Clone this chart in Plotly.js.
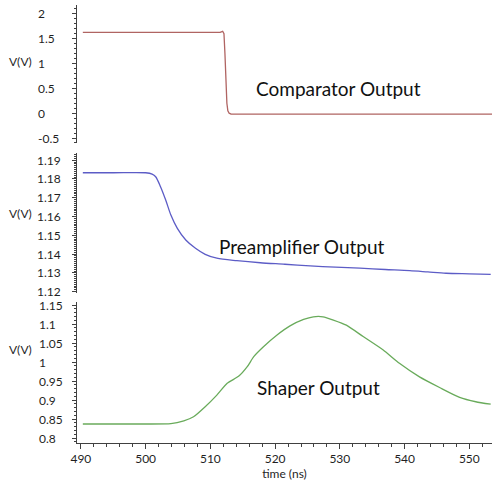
<!DOCTYPE html>
<html>
<head>
<meta charset="utf-8">
<script src="https://cdn.plot.ly/plotly-3.0.1.min.js"></script>
<style>html,body{margin:0;padding:0;background:#fff;}#chart{width:492px;height:493px;}</style>
</head>
<body>
<div id="chart"></div>
<script>
// ---- Data ----
const compTime = [490.3, 495, 500, 505, 510, 511.5, 511.9, 512.1, 512.25, 512.4, 512.55, 512.7, 512.9, 513.2, 513.6, 520, 530, 540, 550, 553.5];
const compV    = [1.63, 1.63, 1.63, 1.63, 1.63, 1.63, 1.65, 1.60, 1.20, 0.60, 0.20, 0.05, 0.0, -0.02, -0.02, -0.02, -0.02, -0.02, -0.02, -0.02];

const preTime = [490.3, 495, 500.0, 501.0, 501.55, 502.3, 503.1, 503.9, 504.9, 506.2, 507.7, 509.2, 511.0, 514.1, 517.7, 521.5, 525.4, 529.3, 533.1, 537.0, 540.8, 543.6, 546.4, 550.0, 553.3];
const preV    = [1.1833, 1.1833, 1.1833, 1.1826, 1.1812, 1.1759, 1.1688, 1.1608, 1.1537, 1.1475, 1.1431, 1.1399, 1.1378, 1.1365, 1.1354, 1.1346, 1.1337, 1.1331, 1.1325, 1.1318, 1.1312, 1.1305, 1.1298, 1.1295, 1.1292];

const shTime = [490.3, 495, 500, 503.9, 505.9, 507.4, 509.2, 511.0, 512.6, 514.4, 515.7, 516.7, 518.2, 520.3, 522.3, 524.4, 525.9, 527.4, 529.0, 531.0, 533.6, 536.7, 539.2, 542.3, 545.4, 548.5, 551.0, 553.3];
const shV    = [0.837, 0.837, 0.837, 0.838, 0.8455, 0.856, 0.8824, 0.913, 0.944, 0.963, 0.9877, 1.014, 1.040, 1.071, 1.095, 1.112, 1.119, 1.119, 1.1105, 1.097, 1.067, 1.0316, 0.9966, 0.961, 0.933, 0.907, 0.8955, 0.889];

const compTicks = [-0.5, 0, 0.5, 1, 1.5, 2];
const compTickText = ["-0.5", "0", "0.5", "1", "1.5", "2"];
const preTicks = [1.12, 1.13, 1.14, 1.15, 1.16, 1.17, 1.18, 1.19];
const preTickText = ["1.12", "1.13", "1.14", "1.15", "1.16", "1.17", "1.18", "1.19"];
const shTicks = [0.8, 0.85, 0.9, 0.95, 1, 1.05, 1.1, 1.15];
const shTickText = ["0.8", "0.85", "0.9", "0.95", "1", "1.05", "1.1", "1.15"];
const timeTicks = [490, 500, 510, 520, 530, 540, 550];

const panelLabels = ["Comparator Output", "Preamplifier Output", "Shaper Output"];
const yLabel = "V(V)";
const xLabel = "time (ns)";

// ---- Styling ----
const FONT = "Lato, 'Open Sans', sans-serif";
const axisColor = "#404040";
const textColor = "#1f1f1f";

const traces = [
  {x: compTime, y: compV, xaxis: "x", yaxis: "y", mode: "lines", line: {color: "#b06462", width: 1.3}, showlegend: false, hoverinfo: "skip"},
  {x: preTime, y: preV, xaxis: "x", yaxis: "y2", mode: "lines", line: {color: "#5c5cc6", width: 1.3, shape: "spline", smoothing: 0.8}, showlegend: false, hoverinfo: "skip"},
  {x: shTime, y: shV, xaxis: "x", yaxis: "y3", mode: "lines", line: {color: "#69ab5b", width: 1.3, shape: "spline", smoothing: 0.6}, showlegend: false, hoverinfo: "skip"}
];

function yAx(domain, range, dtick, minorDtick) {
  return {
    domain: domain, range: range, anchor: "x",
    showline: true, linecolor: axisColor, linewidth: 1,
    ticks: "outside", ticklen: 4, tickcolor: axisColor, tickwidth: 1,
    tickmode: "linear", dtick: dtick, tick0: 0,
    minor: {ticks: "outside", ticklen: 2, tickcolor: axisColor, dtick: minorDtick, showgrid: false},
    showticklabels: false, showgrid: false, zeroline: false, fixedrange: true
  };
}

const annotations = [];
function tickAnns(vals, texts, yref, xpos) {
  vals.forEach((v, i) => annotations.push({
    xref: "paper", yref: yref, x: xpos, y: v, text: texts[i], showarrow: false,
    xanchor: "left", yanchor: "middle", font: {family: FONT, size: 12, color: textColor}
  }));
}
tickAnns(compTicks, compTickText, "y", -0.099);
tickAnns(preTicks, preTickText, "y2", -0.101);
tickAnns(shTicks, shTickText, "y3", -0.096);

[0.870, 0.525, 0.2146].forEach((py) => annotations.push({
  xref: "paper", yref: "paper", x: -0.137, y: py, text: yLabel, showarrow: false,
  xanchor: "center", yanchor: "middle", font: {family: FONT, size: 12, color: textColor}
}));

const labelPos = [[0.629, 0.810], [0.542, 0.4495], [0.581, 0.1276]];
panelLabels.forEach((t, i) => annotations.push({
  xref: "paper", yref: "paper", x: labelPos[i][0], y: labelPos[i][1], text: t, showarrow: false,
  xanchor: "center", yanchor: "middle", font: {family: FONT, size: 19, color: "#111111"}
}));

const layout = {
  width: 492, height: 493,
  margin: {l: 77, r: 0, t: 5, b: 50},
  paper_bgcolor: "#ffffff", plot_bgcolor: "#ffffff",
  font: {family: FONT, size: 12, color: textColor},
  xaxis: {
    anchor: "y3", range: [489.4, 553.5],
    tickmode: "array", tickvals: timeTicks,
    showline: true, linecolor: axisColor, linewidth: 1,
    ticks: "outside", ticklen: 5, tickcolor: axisColor,
    minor: {ticks: "outside", ticklen: 3, tickcolor: axisColor, dtick: 2, tick0: 490, showgrid: false},
    tickfont: {family: FONT, size: 12, color: textColor},
    title: {text: xLabel, font: {family: FONT, size: 12, color: textColor}, standoff: 2},
    showgrid: false, zeroline: false, fixedrange: true
  },
  yaxis: yAx([0.685, 1.0], [-0.6, 2.18], 0.5, 0.1),
  yaxis2: yAx([0.3425, 0.662], [1.1193, 1.1938], 0.01, 0.001),
  yaxis3: yAx([0, 0.322], [0.787, 1.158], 0.05, 0.01),
  annotations: annotations,
  showlegend: false
};

Plotly.newPlot("chart", traces, layout, {staticPlot: true, displayModeBar: false});
</script>
</body>
</html>
